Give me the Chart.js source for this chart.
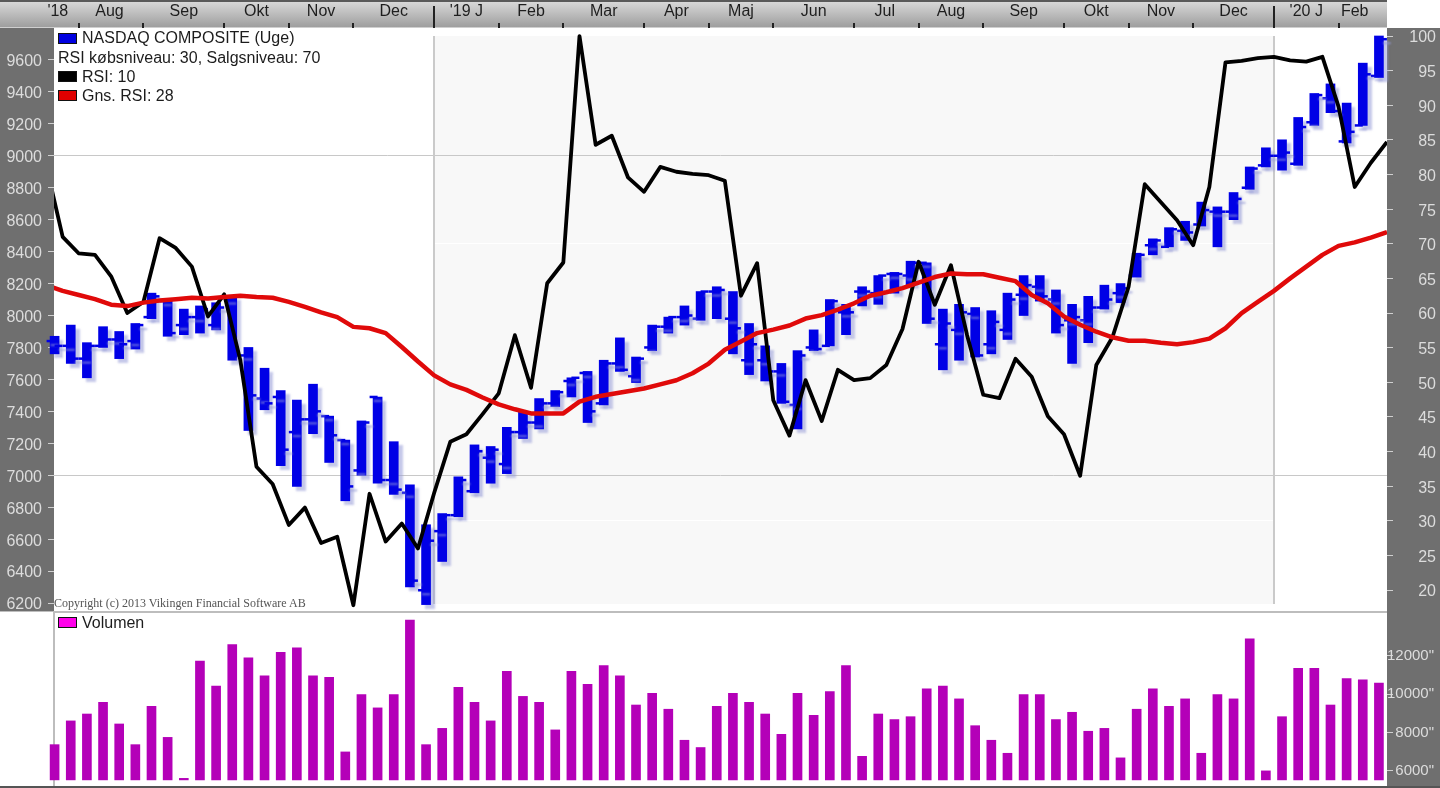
<!DOCTYPE html>
<html>
<head>
<meta charset="utf-8">
<title>NASDAQ COMPOSITE</title>
<script src="https://cdn.jsdelivr.net/npm/chart.js@4"></script>
<style>
  html, body { margin: 0; padding: 0; background: #fff; overflow: hidden; }
  #wrap { position: relative; width: 1440px; height: 788px; font: 16px "Liberation Sans", Arial, sans-serif; color: #1c1c1c; }
  canvas { position: absolute; left: 0; display: block; }
  #priceChart { top: 0; }
  #volumeChart { top: 612px; }
  .row { position: absolute; line-height: 19px; white-space: nowrap; }
  .box { position: absolute; left: 58px; width: 17px; height: 9px; border: 1px solid #111; }
  #copy { position: absolute; left: 54px; top: 596px; font: 12px "Liberation Serif", serif; color: #555; white-space: nowrap; }
</style>
</head>
<body>
<div id="wrap">
  <canvas id="priceChart" width="1440" height="612"></canvas>
  <canvas id="volumeChart" width="1440" height="176"></canvas>
  <div class="box" style="top:33px;background:#0000e0"></div>
  <div class="row" style="left:82px;top:28px">NASDAQ COMPOSITE (Uge)</div>
  <div class="row" style="left:58px;top:48px">RSI købsniveau: 30, Salgsniveau: 70</div>
  <div class="box" style="top:71px;background:#000"></div>
  <div class="row" style="left:82px;top:67px">RSI: 10</div>
  <div class="box" style="top:90px;background:#e00000"></div>
  <div class="row" style="left:82px;top:86px">Gns. RSI: 28</div>
  <div id="copy">Copyright (c) 2013 Vikingen Financial Software AB</div>
  <div class="box" style="top:617px;background:#ff00ea"></div>
  <div class="row" style="left:82px;top:613px">Volumen</div>
</div>
<script>
// values, one entry per week
const highs = [7870,7940,7830,7930,7900,7950,8140,8100,8040,8060,8080,8120,7800,7670,7530,7470,7570,7370,7220,7340,7490,7210,6940,6690,6760,6990,7190,7180,7300,7400,7480,7530,7610,7650,7720,7860,7740,7940,7990,8060,8150,8180,8150,7950,7810,7700,7780,7910,8100,8070,8180,8250,8270,8340,8330,8040,8070,8050,8030,8140,8250,8250,8160,8070,8120,8190,8200,8390,8480,8550,8590,8710,8680,8770,8930,9050,9100,9240,9390,9450,9330,9580,9750];
const lows = [7760,7700,7610,7800,7730,7790,7980,7870,7880,7890,7910,7720,7280,7410,7060,6930,7260,7080,6840,7000,6950,6880,6300,6190,6460,6740,6890,6950,7010,7230,7290,7430,7490,7330,7440,7650,7580,7780,7890,7940,7970,7980,7760,7630,7590,7450,7290,7780,7810,7880,8060,8070,8140,8190,7950,7660,7720,7740,7760,7850,8000,8090,7890,7700,7830,8040,8080,8240,8380,8430,8470,8560,8430,8600,8790,8930,8910,8940,9190,9270,9080,9190,9490];
const opens = [7840,7810,7730,7810,7850,7840,7990,8090,7940,7990,7940,8100,7750,7480,7490,7270,7350,7370,7220,7030,7490,6970,6890,6280,6650,6750,6900,7110,7070,7270,7330,7450,7590,7640,7450,7700,7620,7800,7930,7990,7980,8150,7980,7720,7720,7650,7440,7800,7810,8020,8150,8140,8260,8250,8330,7820,7910,8010,7820,7910,8130,8180,8100,7970,7970,8050,8140,8250,8440,8430,8530,8570,8650,8650,8800,8940,9000,8950,9210,9360,9090,9190,9500];
const closes = [7810,7730,7810,7850,7820,7940,8120,7890,7990,8040,8050,7750,7500,7450,7160,7350,7400,7250,6930,7330,6970,6910,6340,6590,6750,6970,7150,7160,7270,7330,7450,7520,7610,7400,7700,7660,7730,7930,7990,8000,8150,8160,7920,7820,7650,7460,7750,7790,8090,8020,8150,8250,8260,8330,7980,7950,8020,7750,7960,8100,8190,8120,7940,7990,8050,8100,8170,8380,8470,8540,8520,8660,8650,8730,8920,9000,9020,9180,9380,9280,9150,9510,9730];
// the two RSI lists start one week before the first bar; that point falls outside the plot
const rsi = [81.1,71.0,68.6,68.4,65.3,60.0,61.6,70.8,69.4,66.7,59.5,62.7,53.2,37.8,35.3,29.4,31.9,26.8,27.7,17.8,33.9,27.0,29.6,26.0,34.0,41.4,42.5,45.4,48.4,56.8,49.2,64.3,67.3,100,84.3,85.6,79.6,77.5,81.1,80.4,80.1,79.9,79.1,62.5,67.2,47.4,42.3,50.3,44.4,51.8,50.3,50.6,52.5,57.7,67.4,61.2,66.9,56.8,48.2,47.7,53.4,50.8,45.1,42.5,36.5,52.5,56.5,63.8,78.6,76.0,73.4,69.8,78.2,96.2,96.4,96.8,97.0,96.5,96.3,97.0,89.8,78.2,81.7,84.7];
const rsiAvg = [64.0,63.2,62.6,62.0,61.2,61.0,61.5,61.8,62.0,62.2,62.1,62.3,62.5,62.3,62.2,61.6,60.9,60.1,59.4,58.0,57.8,57.1,55.1,53.0,51.0,49.7,48.9,47.8,46.8,46.1,45.5,45.5,45.5,47.2,47.9,48.3,48.7,49.1,49.7,50.3,51.3,52.7,54.7,55.9,57.1,57.6,58.2,59.2,59.7,60.5,61.4,62.5,63.0,63.6,64.4,65.2,65.7,65.6,65.6,65.1,64.6,62.6,61.4,59.5,58.3,57.3,56.5,56.0,56.0,55.7,55.5,55.8,56.3,57.8,60.0,61.6,63.2,65.0,66.7,68.4,69.7,70.2,70.9,71.7];
const volumes = [7370,8610,8970,9580,8450,7370,9370,7750,5610,11740,10430,12590,11900,10970,12190,12420,10970,10890,6990,9980,9290,9980,13880,7370,8220,10360,9580,8610,11200,9890,9580,8140,11200,10520,11500,10970,9440,10050,9220,7600,7220,9370,10050,9580,8970,7910,10050,8900,10140,11500,6760,8970,8680,8830,10280,10430,9760,8360,7600,6920,9980,9980,8680,9060,8070,8220,6680,9220,10280,9370,9760,6920,9980,9760,12890,6000,8830,11360,11360,9440,10820,10750,10590];
const volumeBase = 5530;

const priceTicks = [6200,6400,6600,6800,7000,7200,7400,7600,7800,8000,8200,8400,8600,8800,9000,9200,9400,9600];
const rsiTicks = [20,25,30,35,40,45,50,55,60,65,70,75,80,85,90,95,100];
const volumeTicks = [6000,8000,10000,12000];

const monthLabels = ["'18","Aug","Sep","Okt","Nov","Dec","'19 J","Feb","Mar","Apr","Maj","Jun","Jul","Aug","Sep","Okt","Nov","Dec","'20 J","Feb"];
const monthCenters = [0.2,3.4,8,12.5,16.5,21,25.5,29.5,34,38.5,42.5,47,51.4,55.5,60,64.5,68.5,73,77.5,80.5];
const monthStarts = [1.5,5.5,10.5,14.5,18.5,27.5,31.5,36.5,40.5,44.5,49.5,53.5,57.5,62.5,66.5,70.5,79.5];
const yearStarts = [23.5,75.5];

const weeks = highs.map((_, i) => i);
const font16 = { family: '"Liberation Sans", Arial, sans-serif', size: 16 };
const xMin = -0.037, xMax = 82.5;

function fixedTicks(list) {
  return scale => { scale.ticks = list.map(v => ({ value: v })); };
}

// fixed column width, and no room kept for half a label above and below the axis
function fitColumn(width) {
  return scale => {
    scale.width = width;
    scale.paddingTop = 0;
    scale.paddingBottom = 0;
  };
}

// window dressing behind the main panel: grey axis columns, header band, shaded year
const pricePanel = {
  id: 'pricePanel',
  beforeDraw(chart) {
    const c = chart.ctx, a = chart.chartArea, x = chart.scales.x;
    c.save();
    c.fillStyle = '#fff';
    c.fillRect(0, 0, chart.width, chart.height);
    c.fillStyle = '#6f6f6f';
    c.fillRect(0, a.top, a.left, chart.height - a.top);
    c.fillRect(a.right, a.top, chart.width - a.right, chart.height - a.top);
    const g = c.createLinearGradient(0, 0, 0, a.top);
    g.addColorStop(0, '#dcdcdc');
    g.addColorStop(1, '#9c9c9c');
    c.fillStyle = g;
    c.fillRect(0, 0, a.right, a.top);
    c.fillStyle = '#5a5a5a';
    c.fillRect(0, 0, a.right, 2);
    c.fillStyle = '#cfcfcf';
    c.fillRect(0, a.top - 1, a.right, 1);
    const x0 = x.getPixelForValue(yearStarts[0]), x1 = x.getPixelForValue(yearStarts[1]);
    c.fillStyle = '#f8f8f8';
    c.fillRect(x0, 36, x1 - x0, 568);
    c.restore();
  },
  afterDraw(chart) {
    const c = chart.ctx, a = chart.chartArea, x = chart.scales.x;
    c.save();
    c.fillStyle = '#222';
    monthStarts.forEach(v => c.fillRect(Math.round(x.getPixelForValue(v)) - 1, 23, 2, 5));
    yearStarts.forEach(v => c.fillRect(Math.round(x.getPixelForValue(v)) - 1, 6, 2, 22));
    c.fillStyle = '#bdbdbd';
    c.fillRect(0, a.bottom, a.right, 1);
    c.restore();
  }
};

// the year lines sit under the marks
const yearLines = {
  id: 'yearLines',
  beforeDatasetsDraw(chart) {
    const c = chart.ctx, x = chart.scales.x;
    c.save();
    c.fillStyle = '#cacaca';
    yearStarts.forEach(v => c.fillRect(Math.round(x.getPixelForValue(v)) - 1, 36, 2, 568));
    c.restore();
  }
};

// soft drop shadow behind the blue bars
const barShadow = {
  id: 'barShadow',
  beforeDatasetDraw(chart, args) {
    if (args.index > 2) return;
    const c = chart.ctx;
    c.save();
    c.shadowColor = 'rgba(150,155,215,0.55)';
    c.shadowOffsetX = 4;
    c.shadowOffsetY = 4;
    c.shadowBlur = 2;
  },
  afterDatasetDraw(chart, args) {
    if (args.index > 2) return;
    chart.ctx.restore();
  }
};

new Chart(document.getElementById('priceChart'), {
  type: 'bar',
  data: {
    datasets: [
      {
        type: 'bar',
        data: weeks.map(i => ({ x: i, y: [lows[i], highs[i]] })),
        backgroundColor: '#0000e6',
        barThickness: 9,
        grouped: false,
        clip: false,
        order: 5,
        yAxisID: 'y'
      },
      {
        type: 'line',
        data: weeks.map(i => ({ x: i, y: opens[i] })),
        showLine: false,
        pointStyle: 'dash',
        pointRotation: 180,
        pointRadius: 8,
        borderColor: '#0000e6',
        pointBorderWidth: 2.5,
        clip: false,
        order: 4,
        yAxisID: 'y'
      },
      {
        type: 'line',
        data: weeks.map(i => ({ x: i, y: closes[i] })),
        showLine: false,
        pointStyle: 'dash',
        pointRadius: 8,
        borderColor: '#0000e6',
        pointBorderWidth: 2.5,
        clip: false,
        order: 3,
        yAxisID: 'y'
      },
      {
        type: 'line',
        data: rsi.map((v, i) => ({ x: i - 0.5, y: v })),
        borderColor: '#000',
        borderWidth: 3.8,
        borderJoinStyle: 'round',
        pointRadius: 0,
        tension: 0,
        order: 2,
        yAxisID: 'y1'
      },
      {
        type: 'line',
        data: rsiAvg.map((v, i) => ({ x: i - 0.5, y: v })),
        borderColor: '#e00a0a',
        borderWidth: 4.5,
        borderJoinStyle: 'round',
        pointRadius: 0,
        tension: 0,
        order: 1,
        yAxisID: 'y1'
      }
    ]
  },
  options: {
    responsive: false,
    animation: false,
    devicePixelRatio: 1,
    layout: { autoPadding: false, padding: { bottom: 1, right: 4 } },
    plugins: { legend: { display: false }, tooltip: { enabled: false } },
    scales: {
      x: {
        type: 'linear',
        position: 'top',
        offset: false,
        min: xMin,
        max: xMax,
        afterBuildTicks: fixedTicks(monthCenters),
        afterFit: s => { s.height = 28; },
        grid: { display: false, drawTicks: false },
        border: { display: false },
        ticks: {
          autoSkip: false,
          maxRotation: 0,
          padding: 7,
          color: '#1e1e1e',
          font: font16,
          callback: v => monthLabels[monthCenters.indexOf(v)]
        }
      },
      y: {
        position: 'left',
        beginAtZero: false,
        min: 6150,
        max: 9800,
        afterBuildTicks: fixedTicks(priceTicks),
        afterFit: fitColumn(54),
        border: { display: false },
        grid: {
          tickLength: 6,
          tickColor: '#d0d0d0',
          color: c => (c.tick && (c.tick.value === 9000 || c.tick.value === 7000)) ? '#c8c8c8' : 'transparent'
        },
        ticks: { color: '#dcdcdc', font: font16, padding: 6, labelOffset: 2, callback: v => String(v) }
      },
      y1: {
        position: 'right',
        min: 16.97,
        max: 101.16,
        afterBuildTicks: fixedTicks(rsiTicks),
        afterFit: fitColumn(49),
        border: { display: false },
        grid: {
          tickLength: 6,
          tickColor: '#d0d0d0',
          color: c => (c.tick && (c.tick.value === 70 || c.tick.value === 30)) ? '#ffffff' : 'transparent'
        },
        ticks: { color: '#dcdcdc', font: font16, crossAlign: 'far', labelOffset: 2, callback: v => String(v) }
      }
    }
  },
  plugins: [pricePanel, yearLines, barShadow]
});

const volumePanel = {
  id: 'volumePanel',
  beforeDraw(chart) {
    const c = chart.ctx, a = chart.chartArea;
    c.save();
    c.fillStyle = '#fff';
    c.fillRect(0, 0, chart.width, chart.height);
    c.fillStyle = '#6f6f6f';
    c.fillRect(a.right, 0, chart.width - a.right, chart.height);
    c.fillStyle = '#bdbdbd';
    c.fillRect(a.left, 0, a.right - a.left, 1);
    c.fillRect(a.left - 1, 0, 2, a.bottom);
    c.fillStyle = '#555';
    c.fillRect(0, a.bottom, chart.width, chart.height - a.bottom);
    c.restore();
  }
};

new Chart(document.getElementById('volumeChart'), {
  type: 'bar',
  data: {
    datasets: [{
      data: weeks.map(i => ({ x: i, y: volumes[i] })),
      base: volumeBase,
      backgroundColor: '#b400b8',
      barThickness: 9,
      clip: false
    }]
  },
  options: {
    responsive: false,
    animation: false,
    devicePixelRatio: 1,
    layout: { padding: { left: 54, bottom: 2, right: 6 } },
    plugins: { legend: { display: false }, tooltip: { enabled: false } },
    scales: {
      x: { type: 'linear', offset: false, min: xMin, max: xMax, display: false },
      y: {
        position: 'right',
        beginAtZero: false,
        min: 5211,
        max: 14297,
        afterBuildTicks: fixedTicks(volumeTicks),
        afterFit: fitColumn(47),
        border: { display: false },
        grid: { drawOnChartArea: false, tickLength: 6, tickColor: '#d0d0d0' },
        ticks: {
          color: '#dcdcdc',
          font: { family: font16.family, size: 15 },
          crossAlign: 'far',
          callback: v => v + '"'
        }
      }
    }
  },
  plugins: [volumePanel]
});
</script>
</body>
</html>
